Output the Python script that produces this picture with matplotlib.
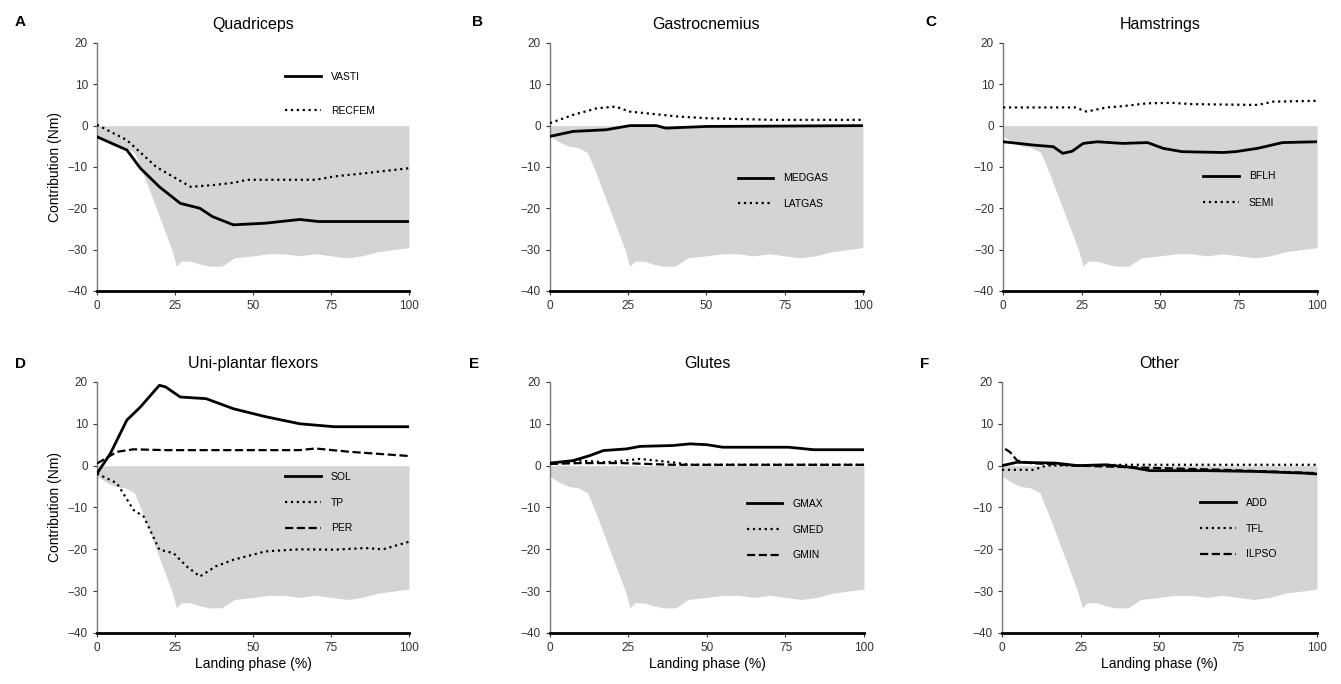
import numpy as np
import matplotlib
matplotlib.use('Agg')
import matplotlib.pyplot as plt

plt.rcParams['font.family'] = ['Liberation Sans', 'DejaVu Sans']

# gray band (lower envelope, same in every panel)
band_x = [0, 3, 6, 9, 12, 15, 18, 21, 24, 25.5, 27, 30, 33, 36, 40, 42, 44,
          50, 55, 60, 65, 70, 75, 80, 85, 90, 95, 100]
band_y = [-2.5, -4.0, -5.0, -5.3, -6.5, -12, -18, -24, -30, -34, -32.8, -32.8,
          -33.5, -34, -34, -33, -32, -31.5, -31, -31, -31.5, -31, -31.5, -32,
          -31.5, -30.5, -30, -29.5]

# A - Quadriceps
vasti_x = [0, 9.6, 13.9, 20, 26.7, 33, 37, 43.7, 54, 65, 71, 100]
vasti_y = [-2.7, -5.9, -10.3, -14.8, -18.8, -20, -22, -24, -23.6, -22.7, -23.2, -23.2]
recfem_x = [0, 9.6, 19, 30, 37, 44, 48, 70, 76, 86, 100]
recfem_y = [0.2, -3.5, -10, -14.8, -14.4, -13.8, -13.1, -13.1, -12.3, -11.5, -10.3]

# B - Gastrocnemius
medgas_x = [0, 7.4, 18, 25.5, 34, 37, 50, 100]
medgas_y = [-2.6, -1.4, -1.0, 0, 0, -0.6, -0.2, 0]
latgas_x = [0, 7.4, 15, 21, 25.5, 41, 50, 71, 100]
latgas_y = [0.6, 2.6, 4.2, 4.6, 3.4, 2.2, 1.8, 1.4, 1.4]

# C - Hamstrings
bflh_x = [0, 9.6, 16, 19, 22, 25.5, 30, 38, 46, 51, 57, 70, 74, 81, 89, 100]
bflh_y = [-3.9, -4.7, -5.1, -6.7, -6.2, -4.3, -3.9, -4.3, -4.1, -5.5, -6.3, -6.5,
          -6.3, -5.5, -4.1, -3.9]
semi_x = [0, 23, 26.6, 33, 38, 46, 54, 60, 81, 86, 100]
semi_y = [4.4, 4.4, 3.4, 4.4, 4.7, 5.4, 5.5, 5.2, 5.0, 5.8, 6.0]

# D - Uni-plantar flexors
sol_x = [0, 4.3, 9.6, 13.9, 20, 22, 26.7, 35, 43.7, 54, 65, 76, 100]
sol_y = [-1.9, 2.9, 10.9, 14, 19.2, 18.8, 16.4, 16, 13.6, 11.7, 10, 9.3, 9.3]
tp_x = [0, 6.4, 11.7, 15, 20, 24.5, 28.8, 33, 38, 43.7, 54, 65, 76, 86, 91.7, 100]
tp_y = [-1.9, -4.2, -10.6, -12.2, -20.1, -20.9, -24.1, -26.5, -24.1, -22.5,
        -20.5, -20, -20.1, -19.7, -20, -18.2]
per_x = [0, 6.4, 11.7, 22, 65, 70, 81, 100]
per_y = [0.5, 3.3, 3.9, 3.7, 3.7, 4.1, 3.3, 2.3]

# E - Glutes
gmax_x = [0, 7.4, 12.7, 17, 24.4, 28.7, 39, 44.6, 50, 55, 66, 76, 84, 100]
gmax_y = [0.6, 1.2, 2.4, 3.6, 4.0, 4.6, 4.8, 5.2, 5.0, 4.4, 4.4, 4.4, 3.8, 3.8]
gmed_x = [0, 9.5, 18, 28.7, 39, 44.6, 100]
gmed_y = [0.4, 1.2, 0.8, 1.6, 0.8, 0.2, 0.2]
gmin_x = [0, 9.5, 23, 39, 100]
gmin_y = [0.4, 0.6, 0.6, 0.2, 0.2]

# F - Other
add_x = [0, 4.8, 17, 24, 33, 41, 47, 65, 81, 96, 100]
add_y = [0, 0.8, 0.6, 0, 0.2, -0.4, -1.2, -1.2, -1.4, -1.8, -2.0]
tfl_x = [0, 10, 14, 41, 100]
tfl_y = [-1.0, -1.0, 0, 0.2, 0.2]
ilpso_x = [1, 2.6, 4.8, 9, 24, 41, 70, 100]
ilpso_y = [4.0, 3.2, 1.2, 0.6, 0, -0.4, -1.0, -1.8]

titles = ['Quadriceps', 'Gastrocnemius', 'Hamstrings',
          'Uni-plantar flexors', 'Glutes', 'Other']
letters = ['A', 'B', 'C', 'D', 'E', 'F']

panels = [
    [(vasti_x, vasti_y, 'VASTI', '-'), (recfem_x, recfem_y, 'RECFEM', ':')],
    [(medgas_x, medgas_y, 'MEDGAS', '-'), (latgas_x, latgas_y, 'LATGAS', ':')],
    [(bflh_x, bflh_y, 'BFLH', '-'), (semi_x, semi_y, 'SEMI', ':')],
    [(sol_x, sol_y, 'SOL', '-'), (tp_x, tp_y, 'TP', ':'), (per_x, per_y, 'PER', '--')],
    [(gmax_x, gmax_y, 'GMAX', '-'), (gmed_x, gmed_y, 'GMED', ':'), (gmin_x, gmin_y, 'GMIN', '--')],
    [(add_x, add_y, 'ADD', '-'), (tfl_x, tfl_y, 'TFL', ':'), (ilpso_x, ilpso_y, 'ILPSO', '--')],
]

# axes boxes in figure fraction [left, bottom, width, height]
boxes = [
    [0.0723, 0.5746, 0.2327, 0.3626],
    [0.4101, 0.5746, 0.2334, 0.3626],
    [0.7480, 0.5746, 0.2342, 0.3626],
    [0.0723, 0.0746, 0.2327, 0.3670],
    [0.4101, 0.0746, 0.2342, 0.3670],
    [0.7472, 0.0746, 0.2349, 0.3670],
]
leg_pos = [(0.603, 0.883), (0.60, 0.474), (0.637, 0.482),
           (0.603, 0.641), (0.627, 0.534), (0.629, 0.538)]
leg_space = [2.3, 1.5, 1.6, 1.5, 1.5, 1.5]
letter_pos = [(0.011, 0.962), (0.352, 0.962), (0.690, 0.962),
              (0.011, 0.462), (0.350, 0.462), (0.686, 0.462)]

fig = plt.figure(figsize=(13.41, 6.84), dpi=100)

for i in range(6):
    ax = fig.add_axes(boxes[i])
    ax.fill_between(band_x, band_y, 0, color='#d4d4d4', lw=0, zorder=1)
    for x, y, lab, ls in panels[i]:
        lw = 2.0 if ls == '-' else 1.6
        ax.plot(x, y, color='black', ls=ls, lw=lw, label=lab, zorder=3)
    ax.set_xlim(0, 100)
    ax.set_ylim(-40, 20)
    ax.set_xticks([0, 25, 50, 75, 100])
    ax.set_yticks([-40, -30, -20, -10, 0, 10, 20])
    ax.tick_params(labelsize=8.5, colors='#333333', length=3)
    ax.spines['top'].set_visible(False)
    ax.spines['right'].set_visible(False)
    ax.spines['left'].set_color('#777777')
    ax.spines['left'].set_linewidth(1.0)
    ax.spines['bottom'].set_linewidth(2.0)
    ax.set_title(titles[i], fontsize=11.5, pad=10)
    if i % 3 == 0:
        ax.set_ylabel('Contribution (Nm)', fontsize=10)
    if i >= 3:
        ax.set_xlabel('Landing phase (%)', fontsize=10, labelpad=2)
    ax.legend(loc='upper left', bbox_to_anchor=leg_pos[i], frameon=False,
              fontsize=7.5, handlelength=3.4, handletextpad=1.0,
              labelspacing=leg_space[i], borderpad=0, borderaxespad=0)
    fig.text(letter_pos[i][0], letter_pos[i][1], letters[i], fontsize=11,
             fontweight='bold')

fig.savefig('out.png', dpi=100)
